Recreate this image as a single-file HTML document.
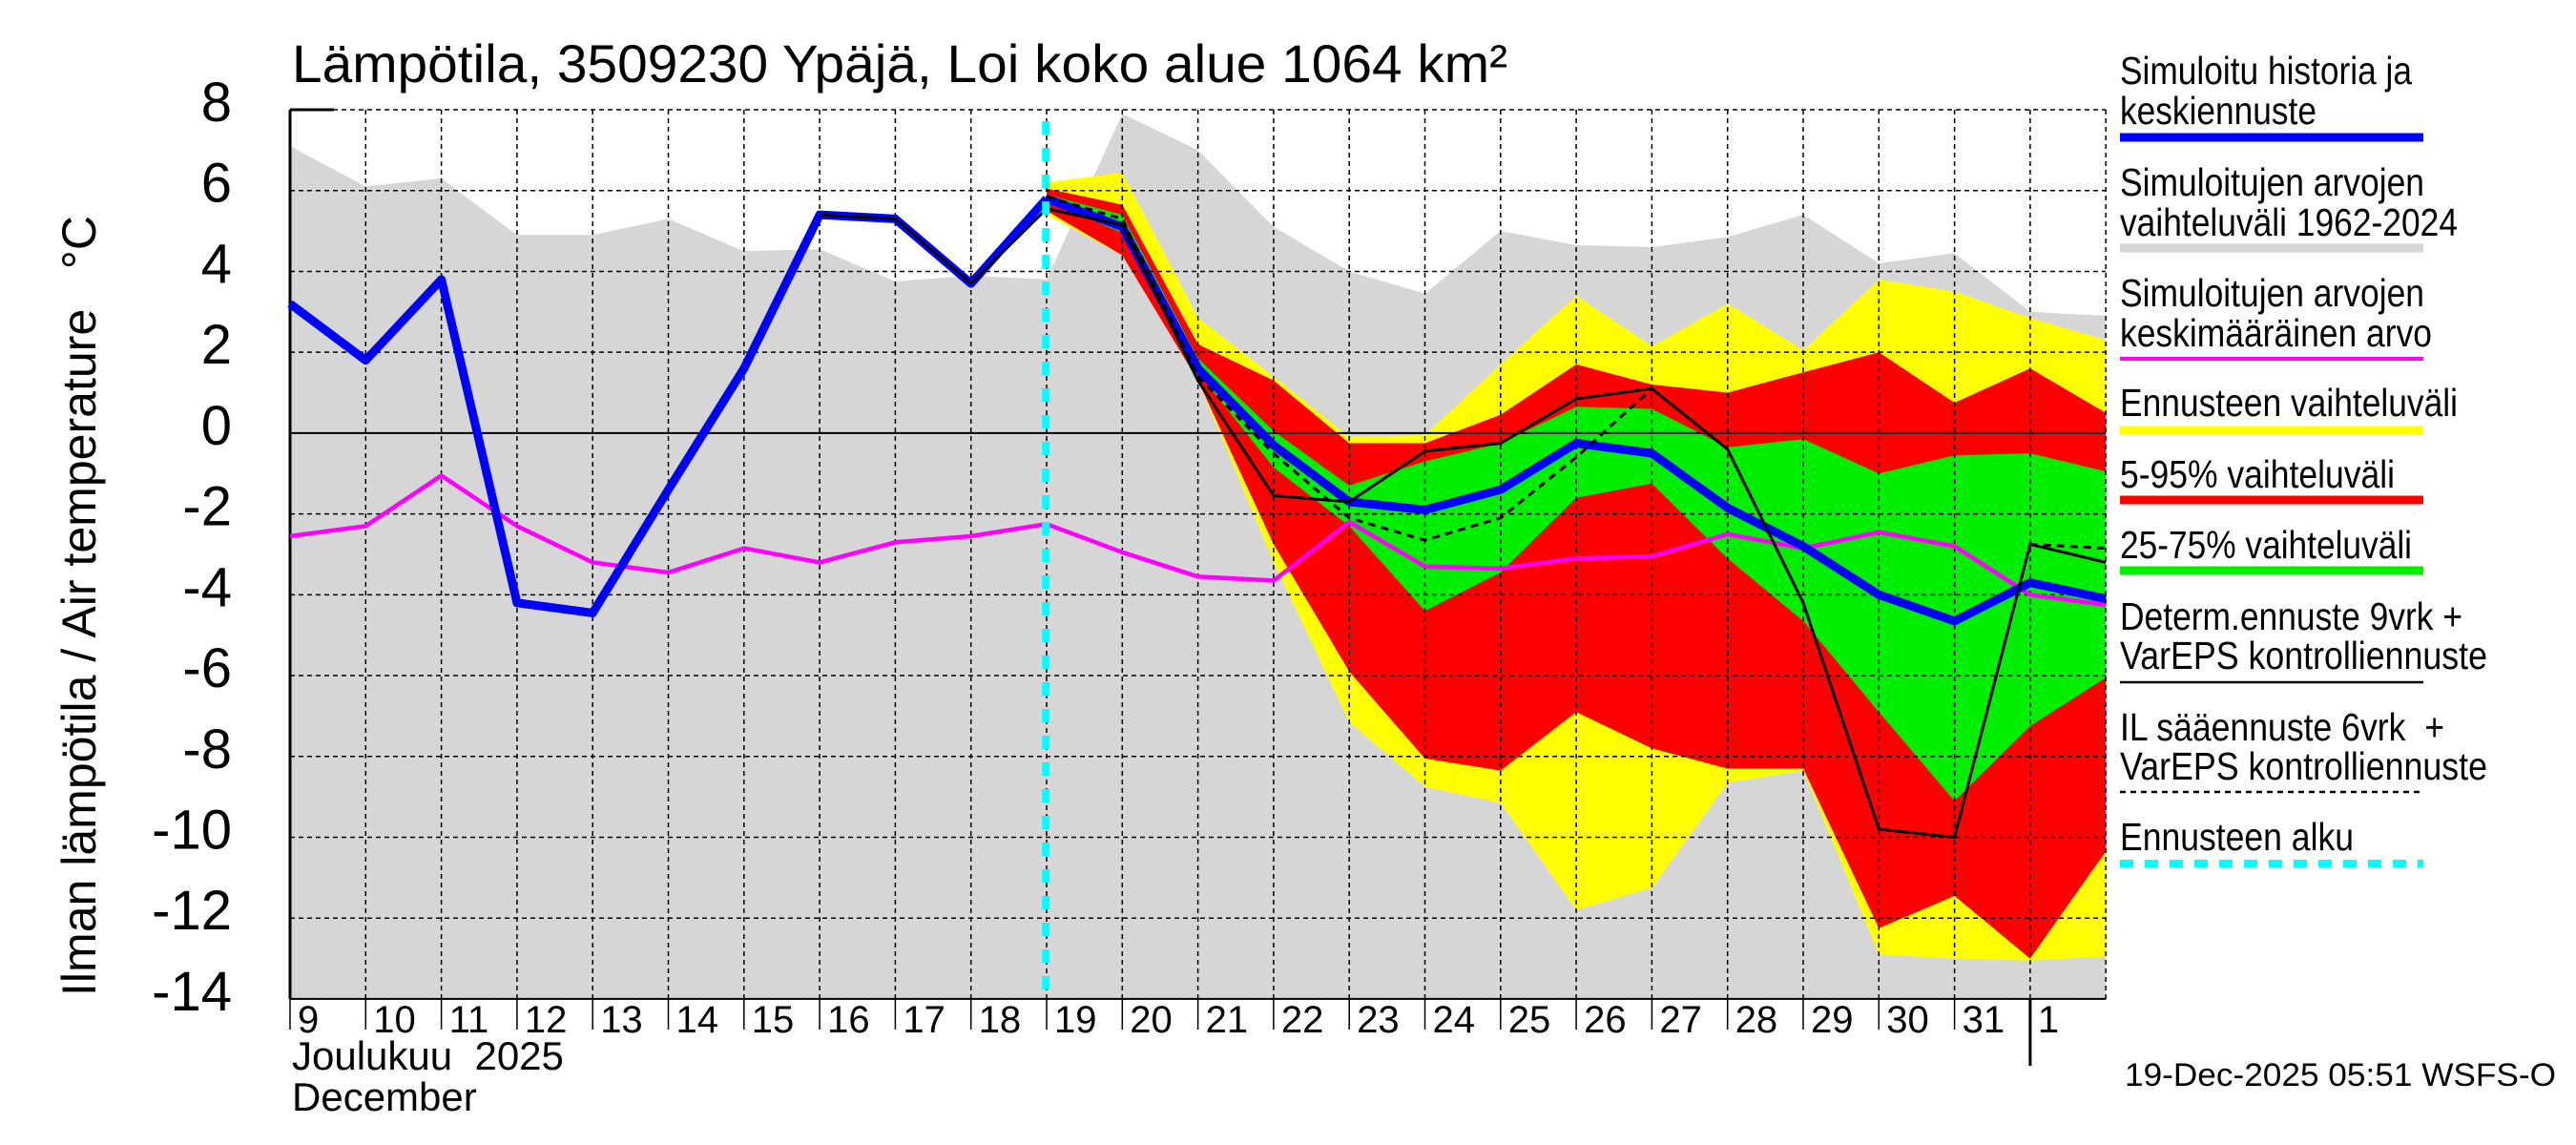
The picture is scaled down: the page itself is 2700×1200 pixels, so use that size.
<!DOCTYPE html>
<html><head><meta charset="utf-8"><style>
html,body{margin:0;padding:0;background:#fff;}
svg{display:block;font-family:"Liberation Sans",sans-serif;}
</style></head><body>
<svg id="chart" width="2700" height="1200" viewBox="0 0 2700 1200" xmlns="http://www.w3.org/2000/svg">
<g id="plot"></g>
<text x="306" y="86" font-size="56" textLength="1274" lengthAdjust="spacingAndGlyphs">Lämpötila, 3509230 Ypäjä, Loi koko alue 1064 km²</text>
<text transform="translate(100,1044) rotate(-90)" font-size="50" textLength="818" lengthAdjust="spacingAndGlyphs">Ilman lämpötila / Air temperature&#160;&#160;&#160;°C</text>
<text x="306" y="1121" font-size="42">Joulukuu&#160;&#160;2025</text>
<text x="306" y="1164" font-size="42">December</text>
<text x="2227" y="1138" font-size="34" textLength="452" lengthAdjust="spacingAndGlyphs">19-Dec-2025 05:51 WSFS-O</text>
<g id="legend"></g>
</svg>
<script>
// day index 0 = Dec 9
const dayLabels = ["9","10","11","12","13","14","15","16","17","18","19","20","21","22","23","24","25","26","27","28","29","30","31","1"];
const yTicks = [8,6,4,2,0,-2,-4,-6,-8,-10,-12,-14];
const histDays = [0,1,2,3,4,5,6,7,8,9,10];
const histBlue = [3.2,1.8,3.8,-4.2,-4.45,-1.4,1.6,5.4,5.3,3.7,5.8];
const fcDays = [10,11,12,13,14,15,16,17,18,19,20,21,22,23,24];
const fcBlue = [5.8,5.1,1.6,-0.3,-1.7,-1.9,-1.4,-0.25,-0.5,-1.85,-2.8,-4.0,-4.65,-3.7,-4.1];
const allDays = [0,1,2,3,4,5,6,7,8,9,10,11,12,13,14,15,16,17,18,19,20,21,22,23,24];
const grayUpper = [7.1,6.1,6.3,4.9,4.9,5.3,4.5,4.55,3.75,3.9,3.8,7.9,7.0,5.1,4.0,3.45,5.0,4.65,4.6,4.85,5.4,4.2,4.45,3.0,2.9];
const meanMagenta = [-2.55,-2.3,-1.05,-2.3,-3.2,-3.45,-2.85,-3.2,-2.7,-2.55,-2.25,-2.95,-3.55,-3.65,-2.2,-3.3,-3.35,-3.1,-3.05,-2.5,-2.85,-2.45,-2.8,-4.0,-4.25];
const yellowUpper = [6.2,6.45,2.85,1.4,-0.1,-0.05,1.7,3.4,2.15,3.2,2.05,3.8,3.5,2.85,2.3];
const yellowLower = [5.4,4.4,1.3,-3.2,-7.15,-8.75,-9.15,-11.8,-11.25,-8.65,-8.35,-12.9,-13.0,-13.05,-12.95];
const redUpper = [6.05,5.65,2.2,1.3,-0.25,-0.25,0.45,1.7,1.2,1.0,1.5,2.0,0.75,1.6,0.5];
const redLower = [5.5,4.4,1.3,-2.75,-5.9,-8.05,-8.35,-6.9,-7.8,-8.3,-8.3,-12.25,-11.45,-13.0,-10.35];
const greenUpper = [5.9,5.4,1.85,0.05,-1.3,-0.7,-0.25,0.65,0.6,-0.35,-0.15,-1.0,-0.55,-0.5,-0.95];
const greenLower = [5.75,4.95,1.5,-0.85,-2.3,-4.4,-3.45,-1.6,-1.25,-3.1,-4.65,-6.9,-9.1,-7.25,-6.05];
const detDays = [7,8,9,10,11,12,13,14,15,16,17,18,19,20,21,22,23,24];
const detValues = [5.4,5.3,3.7,5.55,5.15,1.3,-1.55,-1.7,-0.45,-0.25,0.85,1.1,-0.4,-4.2,-9.8,-10.0,-2.75,-3.2];
const ilDays1 = [10,11,12,13,14,15,16,17,18];
const ilValues1 = [5.85,5.3,1.4,-0.5,-2.1,-2.65,-2.1,-0.6,1.1];
const ilDays2 = [23,24];
const ilValues2 = [-2.75,-2.85];
const forecastStartDay = 9.99;

const X0=304, DX=79.3, Y8=115, PY=42.36;
const xs = d => X0 + d*DX;
const ys = v => Y8 + (8 - v)*PY;
const NS="http://www.w3.org/2000/svg";
const plot=document.getElementById('plot');
function mk(tag, attrs, parent){const e=document.createElementNS(NS,tag);for(const k in attrs)e.setAttribute(k,attrs[k]);(parent||plot).appendChild(e);return e;}
function pts(days, vals){return days.map((d,i)=>xs(d).toFixed(1)+','+ys(vals[i]).toFixed(1)).join(' ');}
function band(days, up, lo){return pts(days,up)+' '+pts(days.slice().reverse(),lo.slice().reverse());}
const YB = ys(-14), XR = xs(24);

let g = mk('polygon',{points: pts(allDays,grayUpper)+' '+XR+','+YB+' '+X0+','+YB, fill:'#d6d6d6'});


let yb = mk('polygon',{points: band(fcDays,yellowUpper,yellowLower), fill:'#ffff00'});


let rb = mk('polygon',{points: band(fcDays,redUpper,redLower), fill:'#ff0000'});


let gb = mk('polygon',{points: band(fcDays,greenUpper,greenLower), fill:'#00ee00'});



for(let i=0;i<=24;i++){
  const gl = mk('line',{x1:xs(i),x2:xs(i),y1:Y8,y2:YB,stroke:'#000','stroke-width':1.5,'stroke-dasharray':'5,4'});
  
  
}
yTicks.forEach(v=>{
  const gl = mk('line',{x1:X0,x2:XR,y1:ys(v),y2:ys(v),stroke:'#000','stroke-width':v===0?2:1.5,'stroke-dasharray':v===0?'none':'5,4'});
  
  
  const t = mk('text',{x:243,y:ys(v)+12,'font-size':58,'text-anchor':'end'});
  t.textContent = String(v);
  
  
});
let ax = mk('line',{x1:X0,x2:X0,y1:Y8,y2:YB,stroke:'#000','stroke-width':3});


let bx = mk('line',{x1:X0,x2:XR,y1:YB,y2:YB,stroke:'#000','stroke-width':2});


let tt = mk('line',{x1:X0,x2:X0+46,y1:Y8,y2:Y8,stroke:'#000','stroke-width':3});


dayLabels.forEach((lab,i)=>{
  const tk = mk('line',{x1:xs(i),x2:xs(i),y1:YB,y2: lab==="1"?1117:1079,stroke:'#000','stroke-width':i===23?3:1.5});
  
  
  const t = mk('text',{x:xs(i)+8,y:1082,'font-size':40});
  t.textContent = lab;
  
  
});

let mg = mk('polyline',{points:pts(allDays,meanMagenta),fill:'none',stroke:'#ff00ff','stroke-width':4.5,'stroke-linejoin':'round'});


let bh = mk('polyline',{points:pts(histDays,histBlue),fill:'none',stroke:'#0000ff','stroke-width':9,'stroke-linejoin':'round'});


let bf = mk('polyline',{points:pts(fcDays,fcBlue),fill:'none',stroke:'#0000ff','stroke-width':9,'stroke-linejoin':'round'});


let dl = mk('polyline',{points:pts(detDays,detValues),fill:'none',stroke:'#000','stroke-width':3});


let il1 = mk('polyline',{points:pts(ilDays1,ilValues1),fill:'none',stroke:'#000','stroke-width':3,'stroke-dasharray':'8,6'});


let il2 = mk('polyline',{points:pts(ilDays2,ilValues2),fill:'none',stroke:'#000','stroke-width':3,'stroke-dasharray':'8,6'});


let cy = mk('line',{x1:xs(forecastStartDay),x2:xs(forecastStartDay),y1:Y8+12,y2:YB,stroke:'#00ffff','stroke-width':8,'stroke-dasharray':'14,14'});



const lg=document.getElementById('legend');
const LX=2222, LX2=2540;
const legText = [
 ["Simuloitu historia ja",73,306],["keskiennuste",115,206],
 ["Simuloitujen arvojen",190,319],["vaihteluväli 1962-2024",232,354],
 ["Simuloitujen arvojen",306,319],["keskimääräinen arvo",348,327],
 ["Ennusteen vaihteluväli",421,354],["5-95% vaihteluväli",496,288],
 ["25-75% vaihteluväli",570,306],["Determ.ennuste 9vrk +",645,359],
 ["VarEPS kontrolliennuste",686,385],["IL sääennuste 6vrk\u00a0\u00a0+",761,340],
 ["VarEPS kontrolliennuste",802,385],["Ennusteen alku",876,245]];
legText.forEach(r=>{
  const t=mk('text',{x:LX,y:r[1]+15,'font-size':41,textLength:r[2],lengthAdjust:'spacingAndGlyphs'},lg);
  t.textContent=r[0];
  
  
});
const legSw = [[144,'#0000ff',9,'none'],[260,'#d6d6d6',9,'none'],[376,'#ff00ff',4,'none'],[451,'#ffff00',9,'none'],[524,'#ff0000',9,'none'],[598,'#00ee00',9,'none'],[715,'#000',2.5,'none'],[830,'#000',2.5,'6,5'],[905,'#00ffff',8,'14,12']];
legSw.forEach(s=>{
  const l=mk('line',{x1:LX,x2:LX2,y1:s[0],y2:s[0],stroke:s[1],'stroke-width':s[2],'stroke-dasharray':s[3]},lg);
  
  
});
</script>
</body></html>
